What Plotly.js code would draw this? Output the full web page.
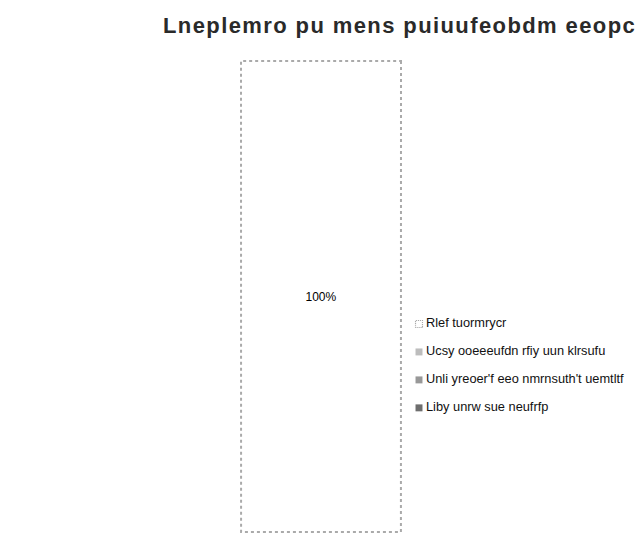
<!DOCTYPE html>
<html>
<head>
<meta charset="utf-8">
<script src="https://cdn.plot.ly/plotly-3.0.1.min.js"></script>
<style>
  html, body { margin: 0; padding: 0; background: #fff; }
  #chart { width: 643px; height: 548px; }
  .funnelarealayer path.surface { stroke-dasharray: 3px 3px; }
  .legendpoints path { transform: translate(33px, 4px) scale(0.58) !important; stroke-dasharray: 2px 1.5px; }
  .legend .traces { opacity: 1 !important; }
  .gtitle { letter-spacing: 1.4px; }
</style>
</head>
<body>
<div id="chart"></div>
<script>
const stages = ["Rlef tuormrycr", "Ucsy ooeeeufdn rfiy uun klrsufu", "Unli yreoer'f eeo nmrnsuth't uemtltf", "Liby unrw sue neufrfp"];
const counts = [100, 0, 0, 0];
const fills = ["#ffffff", "#bdbdbd", "#989898", "#6e6e6e"];
const edges = ["#aaaaaa", "#bdbdbd", "#989898", "#6e6e6e"];
const edgeWidths = [2, 0, 0, 0];
const titleText = "Lneplemro pu mens puiuufeobdm eeopc";

const trace = {
  type: 'funnelarea',
  labels: stages.map(s => '<span style="font-size:12.8px">' + s + '</span>'),
  values: counts,
  sort: false,
  marker: { colors: fills, line: { color: edges, width: edgeWidths } },
  textinfo: 'percent',
  textfont: { family: 'Liberation Sans, Arial, sans-serif', size: 12, color: '#000' },
  textposition: 'inside',
  baseratio: 1,
  aspectratio: 471 / 160,
  domain: { x: [241 / 643, 401 / 643], y: [1 - 532 / 548, 1 - 61 / 548] },
  showlegend: true,
  hoverinfo: 'label+percent'
};

const layout = {
  width: 643, height: 548,
  margin: { l: 0, r: 0, t: 0, b: 0 },
  paper_bgcolor: '#fff',
  plot_bgcolor: '#fff',
  font: { family: 'Liberation Sans, Arial, sans-serif', color: '#222' },
  title: {
    text: '<b>' + titleText + '</b>',
    font: { size: 22, color: '#2a2a2a', family: 'Liberation Sans, Arial, sans-serif' },
    xref: 'container', x: 163 / 643, xanchor: 'left',
    yref: 'container', y: 1 - 25.5 / 548, yanchor: 'middle'
  },
  showlegend: true,
  legend: {
    x: 386 / 643, xanchor: 'left',
    y: 1 - 362 / 548, yanchor: 'middle',
    font: { size: 19.2, color: '#111', family: 'Liberation Sans, Arial, sans-serif' },
    traceorder: 'normal',
    bgcolor: 'rgba(0,0,0,0)'
  }
};

Plotly.newPlot('chart', [trace], layout, { displayModeBar: false, staticPlot: true });
</script>
</body>
</html>
